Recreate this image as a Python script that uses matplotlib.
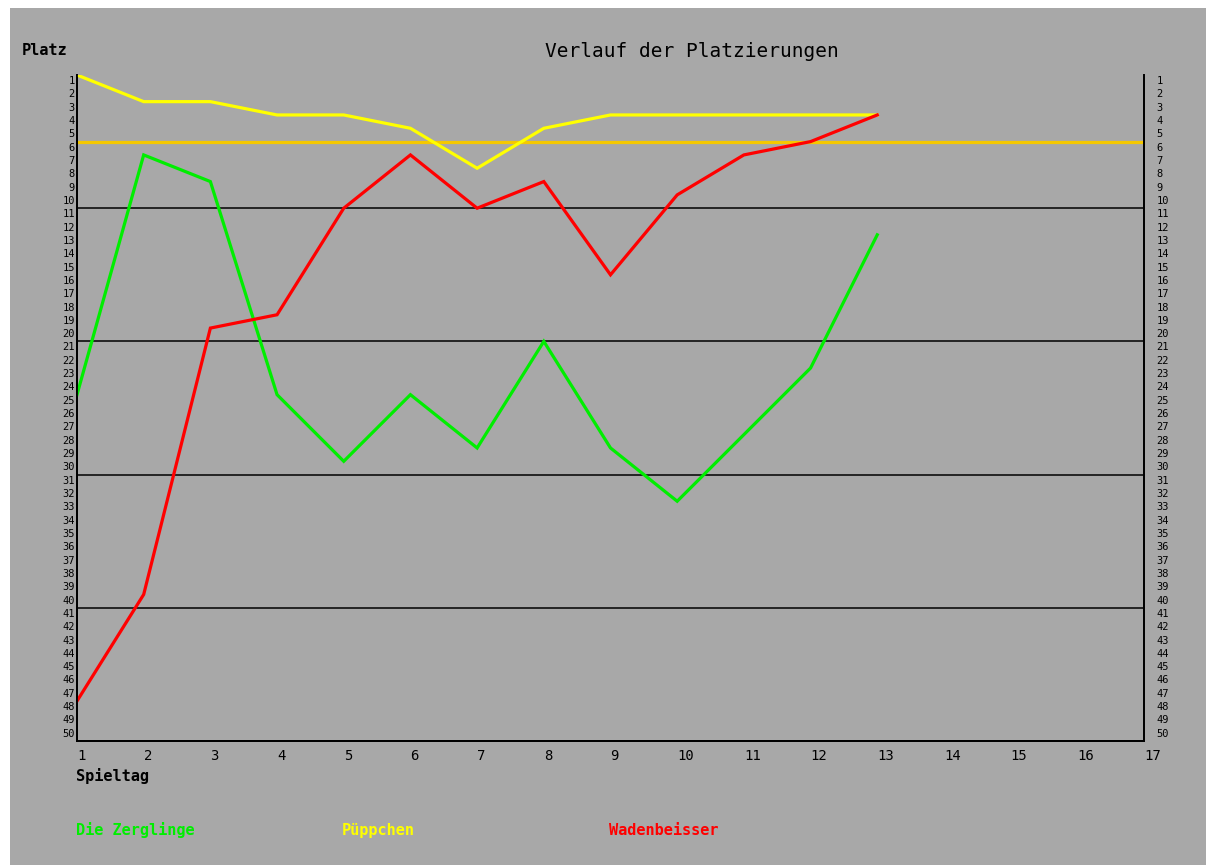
import numpy as np
import matplotlib
matplotlib.use("Agg")
import matplotlib.pyplot as plt
from matplotlib.patches import Rectangle

# ---- data ----
spieltage = list(range(1, 14))
zerglinge = [25, 7, 9, 25, 30, 25, 29, 21, 29, 33, 28, 23, 13]
puppchen = [1, 3, 3, 4, 4, 5, 8, 5, 4, 4, 4, 4, 4]
wadenbeisser = [48, 40, 20, 19, 11, 7, 11, 9, 16, 10, 7, 6, 4]
series_names = ["Die Zerglinge", "Püppchen", "Wadenbeisser"]
x_ticks = list(range(1, 18))
y_ranks = list(range(1, 51))
divider_ranks = [11, 21, 31, 41]
highlight_rank = 6

W, H = 1206, 865
BG = "#a8a8a8"
colors = ["#00ee00", "#ffff00", "#ff0000"]

fig = plt.figure(figsize=(W / 100, H / 100), dpi=100, facecolor="white")
fig.patches.append(Rectangle((10 / W, 0), 1 - 10 / W, 1 - 8 / H, transform=fig.transFigure,
                             facecolor=BG, edgecolor="none", zorder=-10))

def fx(px):
    return px / W

def fy(py):
    return 1 - py / H

ax = fig.add_axes([fx(77), fy(741), fx(1144) - fx(77), fy(75) - fy(741)])
ax.set_facecolor(BG)
ax.set_xlim(1, 17)
ax.set_ylim(51, 1)

for name, vals, c in zip(series_names, [zerglinge, puppchen, wadenbeisser], colors):
    ax.plot(spieltage, vals, color=c, lw=2.3, solid_joinstyle="miter", zorder=3)

for r in divider_ranks:
    ax.axhline(r, color="black", lw=1.1, zorder=2)
ax.axhline(highlight_rank, color="#f5c800", lw=2.3, zorder=2)

mono = "DejaVu Sans Mono"
ax.set_xticks(x_ticks)
ax.set_xticklabels([str(v) for v in x_ticks], ha="left", fontsize=10, family=mono)
ax.tick_params(axis="x", length=0, pad=6)

yt = np.array(y_ranks) + 0.38
ax.set_yticks(yt)
ax.set_yticklabels([str(v) for v in y_ranks], fontsize=7.5, family=mono)
ax.tick_params(axis="y", length=0, pad=1.5)

ax2 = ax.twinx()
ax2.set_ylim(51, 1)
ax2.set_yticks(yt)
ax2.set_yticklabels([str(v) for v in y_ranks], fontsize=7.5, family=mono)
ax2.tick_params(axis="y", length=0, pad=9)

for a in (ax, ax2):
    a.spines["top"].set_visible(False)
    for s in ("left", "right", "bottom"):
        a.spines[s].set_color("black")
        a.spines[s].set_linewidth(1.3)

fig.text(fx(692), fy(57), "Verlauf der Platzierungen", ha="center", va="baseline",
         fontsize=14, family=mono)
fig.text(fx(22), fy(55), "Platz", ha="left", va="baseline", fontsize=11,
         family=mono, weight="bold")
fig.text(fx(76), fy(781), "Spieltag", ha="left", va="baseline", fontsize=11,
         family=mono, weight="bold")
for name, c, px in zip(series_names, colors, [76, 342, 609]):
    fig.text(fx(px), fy(835), name, ha="left", va="baseline", fontsize=11,
             family=mono, weight="bold", color=c)

fig.savefig("out.png", dpi=100, facecolor=fig.get_facecolor())
